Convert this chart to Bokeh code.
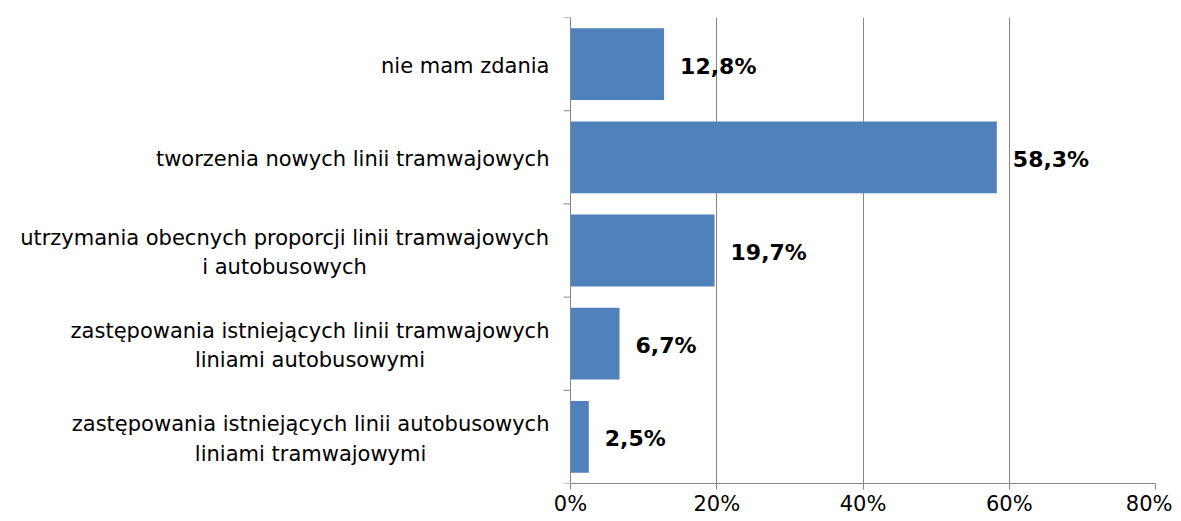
from bokeh.plotting import figure
from bokeh.models import Range1d, FixedTicker, ColumnDataSource, Label, Span
from bokeh.core.properties import value
from bokeh.embed import file_html
from bokeh.resources import INLINE

categories = [
    "nie mam zdania",
    "tworzenia nowych linii tramwajowych",
    "utrzymania obecnych proporcji linii tramwajowych\ni autobusowych",
    "zastępowania istniejących linii tramwajowych\nliniami autobusowymi",
    "zastępowania istniejących linii autobusowych\nliniami tramwajowymi",
]
values = [12.8, 58.3, 19.7, 6.7, 2.5]
x_ticks = [0, 20, 40, 60, 80]

n = len(categories)
ypos = [n - 0.5 - i for i in range(n)]
labels = [f"{v:.1f}".replace(".", ",") + "%" for v in values]

src = ColumnDataSource(dict(y=ypos, v=values, lab=labels))

FONT = "DejaVu Sans"
CAT_PX = 21
AXIS_GREY = "#868686"

# approximate DejaVu Sans advance widths (em) for laying out centred multi-line labels
EM = {"a": .613, "b": .635, "c": .550, "d": .635, "e": .615, "h": .634, "i": .278,
      "j": .278, "k": .579, "l": .278, "m": .974, "n": .634, "o": .612, "p": .635,
      "r": .411, "s": .521, "t": .392, "u": .634, "w": .818, "y": .592, "z": .525,
      "ę": .615, "ą": .613, " ": .318}

def text_width(s, px):
    return sum(EM.get(ch, .6) for ch in s) * px

W, H = 1172, 521
BR, BT, BB = 17, 17, 38
LABEL_AREA = 570          # px left of the value axis reserved for category labels
XMAX = 80
plot_px = W - BR - LABEL_AREA
px_per_unit = plot_px / XMAX
XMIN = -LABEL_AREA / px_per_unit

p = figure(width=W, height=H, output_backend="svg", toolbar_location=None,
           x_range=Range1d(XMIN, XMAX), y_range=Range1d(0, n), y_axis_location=None,
           min_border_left=0, min_border_right=BR, min_border_top=BT, min_border_bottom=BB)
p.outline_line_color = None
p.background_fill_color = "white"
p.border_fill_color = "white"

# gridlines
p.xgrid.ticker = FixedTicker(ticks=[20, 40, 60, 80])
p.xgrid.grid_line_color = AXIS_GREY
p.ygrid.grid_line_color = None

# category axis line at x=0 with boundary ticks
p.add_layout(Span(location=0, dimension="height", line_color=AXIS_GREY, line_width=1))
bounds = list(range(n + 1))
tick_len = 7 / px_per_unit
p.segment(x0=[-tick_len] * len(bounds), x1=[0] * len(bounds), y0=bounds, y1=bounds,
          line_color=AXIS_GREY, line_width=1)

p.hbar(y="y", right="v", left=0, height=0.77, source=src,
       fill_color="#4F81BD", line_color=None)

p.text(x="v", y="y", text="lab", source=src, x_offset=16, y_offset=2,
       text_font=value(FONT), text_font_style="bold", text_font_size="22px",
       text_align="left", text_baseline="middle", text_color="black")

# category labels: block right-aligned 21px left of the axis, lines centred
GAP = 21
for y, c in zip(ypos, categories):
    w = max(text_width(line, CAT_PX) for line in c.split("\n"))
    cx = -(GAP + w / 2) / px_per_unit
    p.add_layout(Label(x=cx, y=y, text=c, text_align="center", text_baseline="middle",
                       y_offset=-2, text_font=FONT, text_font_size=f"{CAT_PX}px",
                       text_color="black", text_line_height=1.22))

# x axis (restricted to 0..80)
p.xaxis.bounds = (0, XMAX)
p.xaxis.ticker = FixedTicker(ticks=x_ticks)
p.xaxis.major_label_overrides = {t: f"{t}%" for t in x_ticks}
p.xaxis.axis_line_color = AXIS_GREY
p.xaxis.major_tick_line_color = AXIS_GREY
p.xaxis.major_tick_out = 6
p.xaxis.major_tick_in = 0
p.xaxis.minor_tick_line_color = None
p.xaxis.major_label_text_font = FONT
p.xaxis.major_label_text_font_size = "21px"
p.xaxis.major_label_text_color = "black"
p.xaxis.major_label_standoff = 2

open("out.html", "w").write(file_html(p, INLINE))
